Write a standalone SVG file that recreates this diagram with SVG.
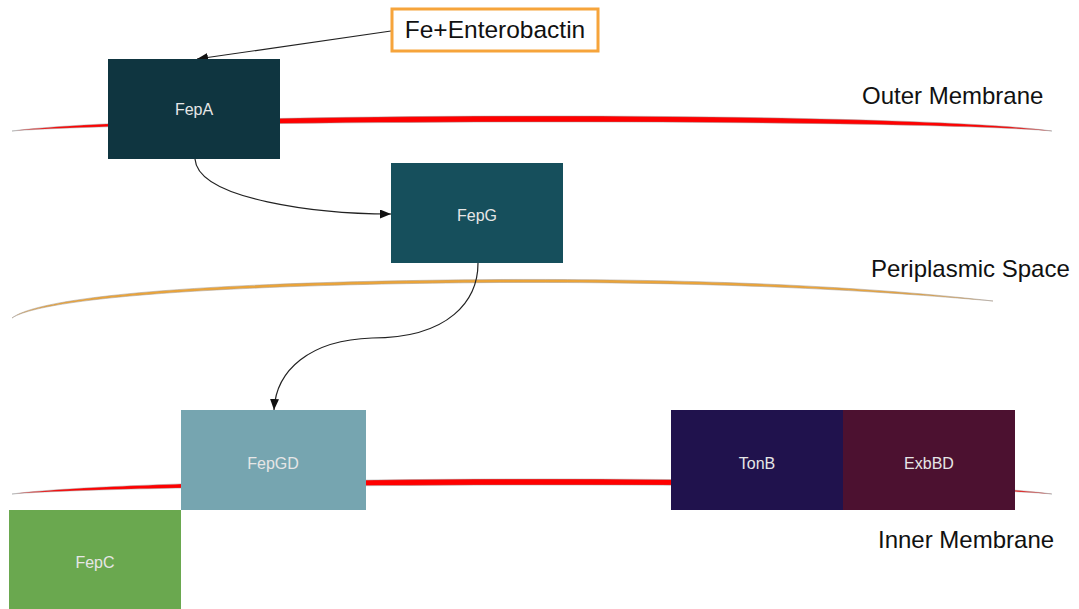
<svg xmlns="http://www.w3.org/2000/svg" width="1079" height="609" viewBox="0 0 1079 609">
  <style>
    .box-label { font-family: "Liberation Sans", Arial, sans-serif; font-size: 16px; fill: #e6e6e6; text-anchor: middle; }
    .region-label { font-family: "Liberation Sans", Arial, sans-serif; font-size: 24px; fill: #111; }
    .membrane { fill: #ff0000; stroke: #9a9a9a; stroke-width: 0.8; stroke-opacity: 0.6; }
    .periplasm { fill: #eca437; stroke: #a89c90; stroke-width: 0.8; stroke-opacity: 0.7; }
    .link { fill: none; stroke: #222; stroke-width: 1.2; }
  </style>
  <defs>
    <marker id="arrow" markerUnits="userSpaceOnUse" markerWidth="11" markerHeight="9" refX="11" refY="4.5" orient="auto">
      <path d="M0,0 L11,4.5 L0,9 z" fill="#111"/>
    </marker>
  </defs>

  <rect width="1079" height="609" fill="#ffffff"/>

  <!-- membranes -->
  <g id="membranes">
    <path class="membrane" d="M12,131 C150,112 900,110 1052,131 C900,118 150,120 12,131 Z"/>
    <path class="periplasm" d="M12,318 C40,296.5 200,281.5 500,279.5 C750,278.5 900,290.5 993,301 C900,293 750,281.5 500,282.5 C200,284.5 40,299.5 12,318 Z"/>
    <path class="membrane" d="M12,494 C150,475 900,473 1052,494 C900,481 150,483 12,494 Z"/>
  </g>

  <!-- region labels -->
  <g id="labels">
    <text class="region-label" x="862" y="104">Outer Membrane</text>
    <text class="region-label" x="871" y="277">Periplasmic Space</text>
    <text class="region-label" x="878" y="548">Inner Membrane</text>
  </g>

  <!-- connectors -->
  <g id="connectors">
    <path class="link" d="M391,31 L197,59" marker-end="url(#arrow)"/>
    <path class="link" d="M195,159 C198,200 320,214 391,214" marker-end="url(#arrow)"/>
    <path class="link" d="M478,263 C478,300 450,338 372,338 C310,340 276,370 274,410" marker-end="url(#arrow)"/>
  </g>

  <!-- nodes -->
  <g id="fe-enterobactin">
    <rect x="392" y="9" width="206" height="42" fill="#ffffff" stroke="#f6a43b" stroke-width="3"/>
    <text x="495" y="38" font-family="Liberation Sans, Arial, sans-serif" font-size="24.5" fill="#111" text-anchor="middle">Fe+Enterobactin</text>
  </g>
  <g id="fepA">
    <rect x="108" y="59" width="172" height="100" fill="#0f3540"/>
    <text class="box-label" x="194" y="115">FepA</text>
  </g>
  <g id="fepG">
    <rect x="391" y="163" width="172" height="100" fill="#164f5c"/>
    <text class="box-label" x="477" y="221">FepG</text>
  </g>
  <g id="fepGD">
    <rect x="181" y="410" width="185" height="100" fill="#76a5b0"/>
    <text class="box-label" x="273" y="469">FepGD</text>
  </g>
  <g id="fepC">
    <rect x="9" y="510" width="172" height="99" fill="#6aa84f"/>
    <text class="box-label" x="95" y="568">FepC</text>
  </g>
  <g id="tonB">
    <rect x="671" y="410" width="172" height="100" fill="#20124d"/>
    <text class="box-label" x="757" y="469">TonB</text>
  </g>
  <g id="exbBD">
    <rect x="843" y="410" width="172" height="100" fill="#4c1130"/>
    <text class="box-label" x="929" y="469">ExbBD</text>
  </g>
</svg>
